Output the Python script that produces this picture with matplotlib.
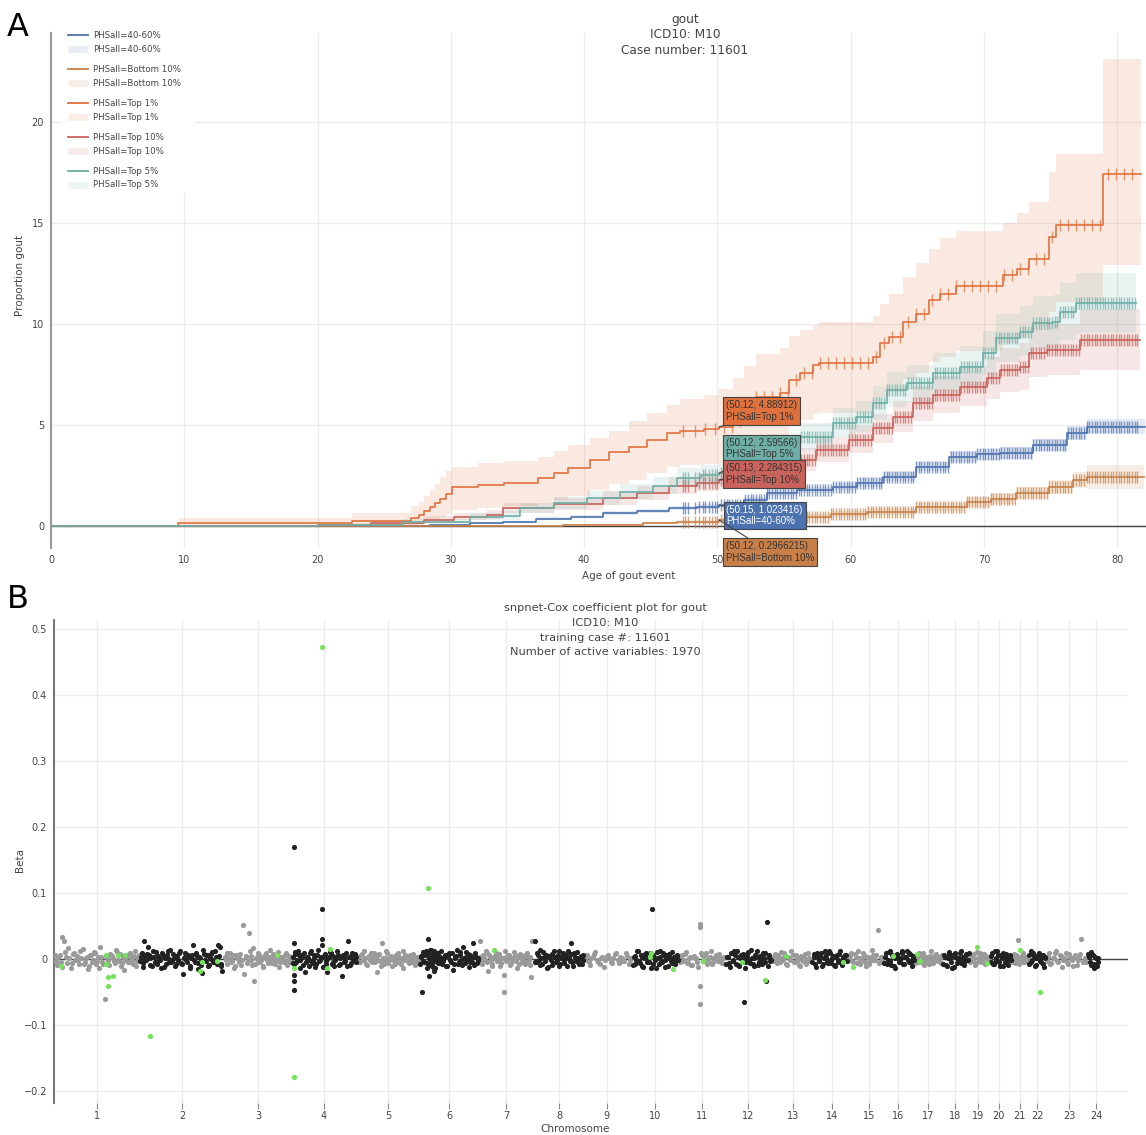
import numpy as np
import matplotlib
matplotlib.use("Agg")
import matplotlib.pyplot as plt
from matplotlib.lines import Line2D
from matplotlib.patches import Rectangle

plt.rcParams['font.family'] = ['DejaVu Sans']

# ---------------- panel A data (cumulative incidence, %) ----------------
groups = ["PHSall=40-60%", "PHSall=Bottom 10%", "PHSall=Top 1%", "PHSall=Top 10%", "PHSall=Top 5%"]
colors = ["#4C72B0", "#C98048", "#E0703C", "#C8625A", "#6DAFA6"]

mid_age = [0, 25, 28.4, 31.4, 33.9, 36.4, 39.0, 41.4, 44.0, 46.4, 48.5, 50.15, 52.0, 53.7, 56.0,
           58.7, 60.5, 62.4, 64.9, 67.4, 69.5, 71.2, 73.7, 76.2, 77.7, 82.1]
mid_val = [0, 0.02, 0.05, 0.15, 0.21, 0.35, 0.46, 0.64, 0.76, 0.9, 0.96, 1.02, 1.3, 1.62, 1.78,
           1.95, 2.15, 2.44, 2.94, 3.43, 3.55, 3.6, 4.01, 4.59, 4.92, 4.92]
mid_lo = [0, 0, 0.02, 0.1, 0.15, 0.28, 0.38, 0.55, 0.66, 0.8, 0.85, 0.9, 1.16, 1.46, 1.61,
          1.77, 1.95, 2.22, 2.7, 3.17, 3.27, 3.31, 3.7, 4.24, 4.55, 4.55]
mid_hi = [0, 0.04, 0.08, 0.2, 0.27, 0.42, 0.54, 0.73, 0.86, 1.0, 1.07, 1.14, 1.44, 1.78, 1.95,
          2.13, 2.35, 2.66, 3.18, 3.69, 3.83, 3.89, 4.32, 4.94, 5.29, 5.29]

bot_age = [0, 35, 38.4, 44.4, 47.0, 50.12, 53.0, 56.2, 58.5, 61.2, 64.9, 68.7, 70.5, 72.4, 74.9, 76.7, 77.7, 82.0]
bot_val = [0, 0.01, 0.05, 0.15, 0.2, 0.3, 0.38, 0.46, 0.58, 0.71, 0.96, 1.2, 1.35, 1.62, 1.95, 2.28, 2.44, 2.44]
bot_lo = [0, 0, 0.01, 0.08, 0.12, 0.2, 0.27, 0.33, 0.43, 0.55, 0.76, 0.96, 1.08, 1.32, 1.6, 1.88, 1.85, 1.85]
bot_hi = [0, 0.03, 0.09, 0.22, 0.28, 0.4, 0.49, 0.59, 0.73, 0.88, 1.16, 1.44, 1.62, 1.93, 2.3, 2.68, 3.0, 3.0]

t1_age = [0, 9.5, 22.6, 27.0, 27.6, 28.0, 28.4, 28.8, 29.2, 29.6, 30.05, 32.0, 34.0, 36.5, 37.7, 38.8,
          40.4, 41.9, 43.4, 44.7, 46.2, 47.2, 49.0, 50.12, 51.2, 52.0, 52.9, 54.7, 55.4, 56.2, 57.2,
          57.6, 61.7, 62.2, 62.9, 63.9, 64.9, 65.9, 66.7, 67.9, 71.4, 72.5, 73.4, 74.9, 75.4, 78.9, 81.8]
t1_val = [0, 0.15, 0.25, 0.4, 0.55, 0.75, 0.95, 1.15, 1.35, 1.6, 1.92, 2.03, 2.12, 2.36, 2.62, 2.87,
          3.27, 3.68, 3.93, 4.26, 4.6, 4.72, 4.8, 4.89, 5.2, 5.9, 6.4, 6.58, 7.23, 7.57, 7.97,
          8.05, 8.38, 9.05, 9.37, 10.1, 10.5, 11.2, 11.5, 11.9, 12.4, 12.7, 13.2, 14.3, 14.9, 17.4, 17.4]
t1_lo = [0, 0, 0, 0.05, 0.1, 0.15, 0.25, 0.35, 0.45, 0.6, 0.8, 0.9, 1.0, 1.15, 1.3, 1.5,
         1.8, 2.1, 2.3, 2.6, 2.9, 3.0, 3.05, 3.1, 3.35, 3.9, 4.3, 4.45, 4.95, 5.25, 5.55,
         5.6, 5.85, 6.4, 6.65, 7.25, 7.55, 8.1, 8.35, 8.65, 9.05, 9.3, 9.7, 10.6, 11.1, 12.9, 12.9]
t1_hi = [0, 0.4, 0.66, 1.0, 1.2, 1.5, 1.8, 2.1, 2.4, 2.7, 2.9, 3.1, 3.2, 3.43, 3.7, 4.0,
         4.34, 4.7, 5.2, 5.6, 6.0, 6.3, 6.5, 6.8, 7.3, 7.9, 8.5, 8.8, 9.4, 9.7, 9.95,
         10.1, 10.4, 11.0, 11.5, 12.3, 13.0, 13.7, 14.25, 14.6, 15.0, 15.5, 16.05, 17.5, 18.4, 23.1, 23.1]

t10_age = [0, 20, 24, 28, 30.2, 32.7, 33.9, 37.7, 41.4, 44.0, 46.4, 48.5, 50.13, 52.4, 54.9, 57.4,
           59.9, 61.7, 63.2, 64.7, 66.2, 68.2, 70.2, 71.2, 72.7, 73.4, 74.7, 77.2, 81.7]
t10_val = [0, 0.05, 0.15, 0.3, 0.46, 0.55, 0.88, 1.09, 1.38, 1.63, 2.0, 2.15, 2.28, 2.77, 3.27, 3.76,
           4.26, 4.83, 5.41, 6.07, 6.49, 6.9, 7.31, 7.72, 7.89, 8.55, 8.71, 9.21, 9.21]
t10_lo = [0, 0, 0.05, 0.15, 0.28, 0.35, 0.62, 0.8, 1.05, 1.27, 1.6, 1.72, 1.84, 2.27, 2.72, 3.15,
          3.6, 4.12, 4.64, 5.22, 5.58, 5.93, 6.28, 6.62, 6.75, 7.35, 7.45, 7.72, 7.72]
t10_hi = [0, 0.12, 0.27, 0.48, 0.66, 0.78, 1.15, 1.4, 1.72, 2.0, 2.42, 2.6, 2.74, 3.28, 3.84, 4.38,
          4.93, 5.55, 6.2, 6.93, 7.42, 7.88, 8.35, 8.83, 9.05, 9.77, 9.99, 10.72, 10.72]

t5_age = [0, 20, 26.4, 31.4, 33.9, 35.2, 37.7, 40.2, 42.7, 45.2, 47.0, 48.8, 50.12, 51.7, 53.7, 56.2,
          58.7, 60.4, 61.7, 62.7, 64.2, 66.2, 68.2, 69.9, 70.9, 72.7, 73.7, 75.2, 75.7, 76.9, 81.4]
t5_val = [0, 0.05, 0.2, 0.46, 0.5, 0.88, 1.13, 1.38, 1.7, 1.98, 2.37, 2.5, 2.6, 3.27, 3.93, 4.42,
          5.1, 5.41, 6.08, 6.73, 7.06, 7.56, 7.89, 8.55, 9.29, 9.62, 10.04, 10.1, 10.6, 11.02, 11.02]
t5_lo = [0, 0, 0.08, 0.28, 0.31, 0.62, 0.84, 1.05, 1.33, 1.58, 1.92, 2.02, 2.1, 2.72, 3.32, 3.76,
         4.38, 4.65, 5.27, 5.87, 6.16, 6.6, 6.88, 7.47, 8.13, 8.41, 8.75, 8.8, 9.2, 9.55, 9.55]
t5_hi = [0, 0.13, 0.35, 0.66, 0.72, 1.15, 1.45, 1.74, 2.1, 2.41, 2.85, 3.0, 3.12, 3.85, 4.57, 5.11,
         5.85, 6.2, 6.92, 7.62, 7.99, 8.55, 8.93, 9.67, 10.49, 10.87, 11.36, 11.43, 12.03, 12.52, 12.52]

# censoring ticks
censor_ages = [47.4, 47.6, 47.8, 48.3, 48.6, 48.9, 49.1, 49.4, 49.6, 49.8, 50.0, 50.3, 50.5, 50.7,
               50.9, 51.1, 51.3, 51.5, 51.7, 51.9, 52.1, 52.3, 52.5, 52.7, 52.9, 53.1, 53.3, 53.5,
               53.7, 53.9, 54.1, 54.3, 54.5, 54.7, 54.9, 55.1, 55.3, 55.5, 55.7, 55.9, 56.1, 56.3,
               56.5, 56.7, 56.9, 57.1, 57.3, 57.5, 57.7, 57.9, 58.1, 58.3, 58.5, 58.7, 58.9, 59.1,
               59.3, 59.5, 59.7, 59.9, 60.1, 60.3, 60.5, 60.7, 60.9, 61.1, 61.3, 61.5, 61.7, 61.9,
               62.1, 62.3, 62.5, 62.7, 62.9, 63.1, 63.3, 63.5, 63.7, 63.9, 64.1, 64.3, 64.5, 64.7,
               64.9, 65.1, 65.3, 65.5, 65.7, 65.9, 66.1, 66.3, 66.5, 66.7, 66.9, 67.1, 67.3, 67.5,
               67.7, 67.9, 68.1, 68.3, 68.5, 68.7, 68.9, 69.1, 69.3, 69.5, 69.7, 69.9, 70.1, 70.3,
               70.5, 70.7, 70.9, 71.1, 71.3, 71.5, 71.7, 71.9, 72.1, 72.3, 72.5, 72.7, 72.9, 73.1,
               73.3, 73.5, 73.7, 73.9, 74.1, 74.3, 74.5, 74.7, 74.9, 75.1, 75.3, 75.5, 75.7, 75.9,
               76.1, 76.3, 76.5, 76.7, 76.9, 77.1, 77.3, 77.5, 77.7, 77.9, 78.1, 78.3, 78.5, 78.7,
               78.9, 79.1, 79.3, 79.5, 79.7, 79.9, 80.1, 80.3, 80.5, 80.7, 80.9, 81.1, 81.3, 81.5]

# hover-label annotations at age ~50
ann_x = [50.12, 50.12, 50.13, 50.15, 50.12]
ann_y = [4.88912, 2.59566, 2.284315, 1.023416, 0.2966215]
ann_group = ["PHSall=Top 1%", "PHSall=Top 5%", "PHSall=Top 10%", "PHSall=40-60%", "PHSall=Bottom 10%"]

# ---------------- panel B data (cumulative position in Mb, beta x 1000) ----------------
chrom_ticks = [124.8, 371.6, 592, 784, 970, 1147, 1312, 1466, 1605, 1745, 1881, 2015, 2145, 2259,
               2366, 2450, 2537, 2616, 2682, 2743, 2804, 2854, 2947, 3025]
chrom_labels = [str(i) for i in range(1, 25)]

# odd chromosomes (grey)
gray_x = [3, 8, 13, 19, 24, 28, 33, 38, 44, 49, 55, 61, 66, 72, 78, 83, 89, 95, 101, 107, 113, 119,
          125, 131, 137, 143, 147, 152, 158, 164, 170, 176, 182, 188, 194, 200, 206, 212, 218, 224,
          230, 236, 242, 247,
          6, 16, 22, 36, 41, 52, 58, 69, 75, 86, 92, 98, 104, 110, 116, 122, 128, 134, 140, 155,
          161, 167, 173, 179, 185, 191, 197, 203, 209, 215, 221, 227, 233, 239, 245,
          496, 501, 506, 511, 516, 521, 526, 531, 536, 541, 546, 549, 552, 556, 561, 566, 571, 576,
          578, 581, 586, 591, 596, 601, 606, 611, 616, 621, 626, 631, 636, 641, 646, 651, 656, 661,
          666, 671, 676, 681, 686,
          498, 503, 513, 518, 523, 528, 538, 543, 558, 563, 568, 573, 583, 588, 593, 598, 603, 608,
          613, 618, 623, 628, 633, 638, 643, 648, 653, 658, 663, 668, 673, 678, 683, 688,
          884, 889, 894, 899, 904, 909, 914, 919, 924, 929, 934, 939, 942, 947, 952, 957, 962, 967,
          972, 977, 982, 987, 992, 997, 1002, 1007, 1012, 1017, 1022, 1027, 1032, 1037, 1042, 1047,
          1052, 1057,
          886, 891, 896, 901, 906, 911, 916, 921, 926, 931, 936, 944, 949, 954, 959, 964, 969, 974,
          979, 984, 989, 994, 999, 1004, 1009, 1014, 1019, 1024, 1029, 1034, 1039, 1044, 1049, 1054, 1059,
          1236, 1241, 1246, 1251, 1256, 1261, 1266, 1271, 1276, 1281, 1286, 1291, 1296, 1301, 1305,
          1306, 1311, 1316, 1321, 1326, 1331, 1336, 1341, 1346, 1351, 1356, 1361, 1366, 1371, 1376,
          1381, 1385, 1388,
          1238, 1243, 1248, 1253, 1258, 1263, 1268, 1273, 1278, 1283, 1288, 1293, 1298, 1303, 1308,
          1313, 1318, 1323, 1328, 1333, 1338, 1343, 1348, 1353, 1358, 1363, 1368, 1373, 1378, 1383,
          1545, 1552, 1560, 1568, 1576, 1584, 1592, 1600, 1608, 1616, 1624, 1632, 1640, 1648, 1656,
          1664, 1672,
          1541, 1548, 1556, 1564, 1572, 1580, 1588, 1596, 1604, 1612, 1620, 1628, 1636, 1644, 1652,
          1660, 1668, 1676,
          1820, 1826, 1832, 1838, 1844, 1850, 1856, 1862, 1868, 1875, 1875, 1875, 1875, 1880, 1886,
          1892, 1898, 1904, 1910, 1916, 1922, 1928, 1934, 1940, 1946,
          1818, 1823, 1829, 1835, 1841, 1847, 1853, 1859, 1865, 1871, 1878, 1883, 1889, 1895, 1901,
          1907, 1913, 1919, 1925, 1931, 1937, 1943, 1948,
          2090, 2096, 2102, 2108, 2114, 2120, 2126, 2132, 2138, 2144, 2150, 2156, 2162, 2168, 2174,
          2180, 2186, 2192,
          2087, 2093, 2099, 2105, 2111, 2117, 2123, 2129, 2135, 2141, 2147, 2153, 2159, 2165, 2171,
          2177, 2183, 2189, 2195,
          2312, 2318, 2324, 2330, 2336, 2342, 2348, 2354, 2360, 2366, 2372, 2378, 2384, 2392, 2398, 2404,
          2309, 2315, 2321, 2327, 2333, 2339, 2345, 2351, 2357, 2363, 2369, 2375, 2381, 2387, 2395,
          2401, 2407,
          2504, 2509, 2514, 2519, 2524, 2529, 2534, 2539, 2544, 2549, 2554, 2559, 2564, 2569, 2575,
          2501, 2506, 2511, 2516, 2521, 2526, 2531, 2536, 2541, 2546, 2551, 2556, 2561, 2566, 2571, 2577,
          2662, 2667, 2672, 2677, 2682, 2687, 2692, 2697, 2702, 2707, 2712,
          2660, 2664, 2669, 2674, 2679, 2684, 2689, 2694, 2699, 2704, 2709, 2714,
          2784, 2789, 2794, 2799, 2804, 2809, 2814, 2819, 2824,
          2782, 2787, 2792, 2797, 2802, 2807, 2812, 2817, 2822, 2826,
          2885, 2892, 2899, 2906, 2913, 2920, 2927, 2934, 2941, 2948, 2955, 2962, 2969, 2976, 2983,
          2990, 2997,
          2882, 2888, 2895, 2902, 2909, 2916, 2923, 2930, 2937, 2944, 2951, 2958, 2965, 2972, 2979,
          2986, 2993]
gray_b = [6, -9, 3, -4, 34, 28, 11, -6, 2, -13, 8, -2, 5, -7, 1, 15, -5, 4, -11, 7, -1, 9,
          -3, -14, 3, -8, -61, 5, -2, 8, 1, -6, 11, -3, -10, 4, -1, 7, -5, 2,
          -8, 12, -3, 6,
          -3, 7, -12, 4, 17, -6, 9, -2, 13, -8, 2, -15, 6, -4, 11, -7, 3, 18, -5, 2,
          -9, 5, -3, 14, -1, 8, -6, -17, 3, -4, 9, -2, 5, -10, 1,
          4, -7, 2, 9, -3, 6, -11, 1, -5, 8, -2, 52, -22, 3, -6, 39, 5, -9,
          17, -33, 2, -4, 7, -1, -12, 4, 9, -6, 1, -3, 8, -8, 2, 11, -5, 3,
          -2, 6, -9, 1, -4,
          -2, 10, -5, 3, -14, 7, 2, -9, 5, -3, 12, -1, -7, 4, 9, -4, 1, -11,
          6, -2, 3, 14, -6, 2, -3, 7, -12, 4, 1, -5, 9, -2, 5, -1,
          3, -5, 8, -2, 1, -9, 5, 2, -4, 10, -1, -19, 6, -3, 24, -7, 2, 9,
          -2, 4, -11, 1, 7, -5, 3, -8, 12, -1, 5, -3, -6, 2, 8, -4,
          1, -2,
          -4, 6, -1, 12, -7, 3, -2, 9, 1, -5, 4, 8, -10, 2, -3, 13, -6, 1,
          5, -2, -8, 3, 10, -4, 1, -13, 6, 2, -1, 7, -5, 3, -9, 4, 1,
          28, -4, 6, -2, 9, -18, 3, -7, 1, 5, -3, 8, -10, 2, -24,
          -50, 4, -1, 7, -6, 2, 11, -3, 5, -8, 1, -2, 6, -4, 3,
          -9, -27, 28,
          3, -8, 1, 12, -4, 6, -1, -11, 4, 9, -2, 5, -6, 1, 13,
          -3, 7, -9, 2, -1, 6, -14, 3, 8, -4, 1, -7, 10, -2, 4,
          3, -5, 1, 8, -2, -8, 4, -1, 6, -4, 2, 9, -6, 1, -3,
          5, -2,
          -2, 6, -9, 3, 11, -4, 1, -12, 5, 2, -6, 8, -1, 4, -3,
          10, -7, 2,
          5, -3, 8, -6, 2, -9, 4, 1, -4, 53, 48, -68, -40, 7, -2,
          10, -5, 3, -8, 1, 6, -3, 2, -6, 4,
          -4, 7, -1, 11, -6, 3, -9, 5, 2, -12, 9, -3, 6, -7, 1,
          12, -5, 3, -1, 8, -4, 2, -8,
          4, -2, 7, -5, 1, 9, -7, 3, -1, 6, -4, 2, -9, 5, -3,
          8, -2, 1,
          -3, 8, -6, 2, 11, -2, 5, -9, 1, 13, -4, 7, -1, -11, 4,
          2, -7, 9, -3,
          5, -3, 8, -6, 2, -1, 10, -4, 3, -8, 1, 6, -2, 44, -5, 2,
          -2, 9, -5, 3, 12, -7, 1, 6, -10, 4, -3, 14, -1, 7, -6,
          3, -4,
          3, -5, 7, -2, 9, -4, 1, -8, 5, 2, -3, 6, -1, 4, -6,
          -6, 2, 10, -4, 5, -9, 3, 1, -2, 12, -6, 4, 8, -3, 2, 6,
          4, -3, 8, -6, 2, 10, -4, 1, -7, 5, -2,
          -5, 7, 2, -9, 11, -3, 5, -1, 8, -6, 3, 1,
          3, -6, 7, 29, -2, 5, -4, 1, -3,
          -4, 8, -2, 5, -8, 2, 10, -5, 4, -1,
          4, -7, 2, 9, -3, 6, -12, 1, -5, 8, -2, 3, -9, 5, 30,
          -1, -4,
          -3, 9, -6, 2, 12, -4, 5, -1, 10, -7, 3, -11, 6, -2, 8,
          -5, 2]

# even chromosomes (black)
black_x = [252, 257, 261, 265, 270, 273, 278, 283, 288, 293, 298, 303, 308, 313, 318, 323, 328, 333,
           338, 343, 348, 353, 358, 363, 368, 374, 379, 384, 389, 394, 399, 404, 409, 414, 419, 424,
           430, 435, 440, 445, 450, 455, 460, 465, 470, 476, 482, 486, 489,
           250, 255, 259, 263, 268, 275, 280, 285, 290, 295, 300, 305, 310, 315, 320, 325, 330, 335,
           340, 345, 350, 355, 360, 366, 371, 376, 381, 386, 391, 396, 401, 407, 412, 417, 422, 427,
           432, 437, 442, 447, 452, 457, 462, 467, 473, 479, 484,
           693, 697, 698, 698, 698, 698, 698, 700, 703, 708, 713, 718, 723, 729, 734, 739, 744,
           749, 754, 759, 764, 769, 774, 778, 779, 779, 784, 789, 794, 799, 804, 809, 814, 819, 824,
           829, 836, 841, 846, 853, 858, 863, 868, 873, 878,
           695, 701, 705, 710, 715, 720, 726, 731, 736, 741, 746, 751, 756, 761, 766, 771, 776, 781,
           786, 791, 796, 801, 806, 811, 816, 821, 826, 831, 838, 843, 848, 851, 856, 861, 866, 871, 876,
           1065, 1068, 1072, 1076, 1080, 1084, 1087, 1088, 1090, 1092, 1095, 1098, 1101, 1103, 1106,
           1110, 1114, 1118, 1122, 1127, 1132, 1137, 1142, 1147, 1152, 1158, 1163, 1168, 1173, 1178,
           1183, 1187, 1192, 1197, 1202, 1207, 1211, 1215, 1220, 1225, 1230,
           1063, 1066, 1070, 1074, 1078, 1082, 1085, 1089, 1091, 1093, 1094, 1096, 1097, 1099, 1100,
           1102, 1104, 1105, 1108, 1112, 1116, 1120, 1124, 1129, 1134, 1139, 1144, 1149, 1155, 1160,
           1165, 1170, 1175, 1180, 1185, 1190, 1195, 1200, 1205, 1209, 1213, 1218, 1223, 1228, 1232,
           1395, 1400, 1405, 1410, 1415, 1420, 1425, 1430, 1435, 1440, 1445, 1450, 1455, 1460, 1465,
           1470, 1475, 1480, 1485, 1490, 1495, 1500, 1505, 1510, 1515, 1520, 1525, 1530, 1535,
           1397, 1402, 1407, 1412, 1417, 1422, 1427, 1432, 1437, 1442, 1447, 1452, 1457, 1462, 1467,
           1472, 1477, 1482, 1487, 1492, 1497, 1502, 1507, 1512, 1517, 1522, 1527, 1532, 1537,
           1683, 1688, 1693, 1698, 1703, 1708, 1713, 1718, 1723, 1728, 1733, 1736, 1740, 1745, 1750,
           1755, 1760, 1765, 1770, 1775, 1780, 1785, 1790, 1795, 1800, 1805, 1810,
           1681, 1686, 1691, 1696, 1701, 1706, 1711, 1716, 1721, 1726, 1731, 1738, 1743, 1748, 1753,
           1758, 1763, 1768, 1773, 1778, 1783, 1788, 1793, 1798, 1803, 1808, 1813,
           1955, 1960, 1965, 1970, 1975, 1980, 1985, 1990, 1995, 2000, 2003, 2008, 2013, 2018, 2023,
           2028, 2033, 2038, 2043, 2048, 2053, 2058, 2063, 2067, 2070, 2075, 2080,
           1952, 1957, 1962, 1967, 1972, 1977, 1982, 1987, 1992, 1997, 2001, 2006, 2011, 2016, 2021,
           2026, 2031, 2036, 2041, 2046, 2051, 2056, 2061, 2065, 2072, 2077, 2082,
           2205, 2210, 2215, 2220, 2225, 2230, 2235, 2240, 2245, 2250, 2255, 2260, 2265, 2270, 2275,
           2280, 2285, 2290, 2295, 2300,
           2202, 2207, 2212, 2217, 2222, 2227, 2232, 2237, 2242, 2247, 2252, 2257, 2262, 2267, 2272,
           2277, 2282, 2287, 2292, 2297, 2302,
           2413, 2418, 2423, 2428, 2433, 2438, 2443, 2448, 2453, 2458, 2463, 2468, 2473, 2478, 2483,
           2488, 2493, 2497,
           2411, 2416, 2421, 2426, 2431, 2436, 2441, 2446, 2451, 2456, 2461, 2466, 2471, 2476, 2481,
           2486, 2491, 2495,
           2584, 2589, 2594, 2599, 2604, 2609, 2614, 2619, 2624, 2629, 2634, 2639, 2644, 2649, 2654,
           2582, 2587, 2592, 2597, 2602, 2607, 2612, 2617, 2622, 2627, 2632, 2637, 2642, 2647, 2652, 2656,
           2721, 2726, 2731, 2736, 2741, 2746, 2751, 2756, 2761, 2766, 2771, 2776,
           2719, 2724, 2729, 2734, 2739, 2744, 2749, 2754, 2759, 2764, 2769, 2774, 2778,
           2832, 2837, 2842, 2847, 2852, 2857, 2862, 2867, 2872, 2876,
           2830, 2835, 2840, 2845, 2850, 2855, 2860, 2865, 2870, 2874, 2878,
           3005, 3010, 3015, 3020, 3025, 3030,
           3003, 3008, 3012, 3018, 3022, 3028, 3032]
black_b = [4, -6, 27, -2, 8, 19, -9, 3, 12, -4, -7, 5, -1, 9, -12, 2, 6, -5,
           14, -3, 1, -8, 4, 10, -6, -22, 3, -2, 7, -10, 1, 22, -4, 5, -15, 2,
           -21, 8, -3, 6, -9, 0, 11, -5, 3, 22, 19, -7, -18,
           -3, 9, -12, 5, -1, 7, 2, -10, 4, 11, -5, 1, -14, 6, 3, -8, 12, 0,
           -4, 8, -11, 5, -2, 13, -7, 2, 9, -5, 4, -13, 7, -1, 10, -6, 3, -9,
           14, -2, 6, -11, 2, 8, -4, 12, -7, 5, -10,
           3, -8, 170, -47, -33, -24, 25, 8, -5, 12, -2, 6, -9, -19, 4, -1, 10,
           -6, 2, -12, 7, -3, 1, 76, 30, 22, 5, -8, -20, 3, 9, -4, -11, 2, 6,
           -7, -25, 4, -3, 28, -9, 5, -2, 8, -5,
           -6, 11, -2, 7, -13, 3, 9, -5, 1, -10, 12, -3, 6, -8, 14, -1, 4, -12,
           8, -3, 2, 11, -7, 5, -2, 13, -9, 1, 6, -4, 10, -11, 3, -6, 9, -1, 4,
           5, -50, -3, 8, 12, -6, 30, 2, -26, -9, 14, 4, -12, -18, 7,
           -2, 10, -5, 3, -8, 1, 6, -11, 9, -4, -16, 2, 5, -7, 11,
           -2, 18, -6, 3, 8, -4, 1, 25, -9, 4, -2,
           -8, 3, 11, -4, 6, -13, 9, 1, -7, 14, -2, 5, -10, 8, -5,
           12, -1, -14, 4, 9, -6, 2, 13, -3, 7, -11, 5, -1, 10, -7,
           3, 14, -4, 6, -9, 2, 11, -2, -12, 7, -5, 3, 9, -6, 1,
           28, -4, 6, -9, 2, 11, -3, 5, -12, 1, 8, -6, 3, -2, 13,
           -8, 4, -1, 7, -10, 2, 24, -5, 9, -3, 1, -7, 5, -2,
           -5, 9, -1, 14, -8, 3, 7, -13, 5, -2, -9, 12, -4, 6, -11,
           2, 10, -6, 1, 13, -3, 8, -10, 4, 11, -5, 2, -8, 6,
           4, -7, 12, -3, 6, -10, 2, 9, -5, 1, -14, 76, 7, -2, 11,
           -8, 3, -4, 6, -12, 2, 8, -3, -6, 4, -1, 5,
           -9, 5, -2, 13, -6, 3, -12, 8, 1, -4, 10, -7, 4, -13, 2,
           12, -5, 9, -1, 6, -10, 3, 11, -3, -8, 7, -2,
           3, -6, 9, -2, 12, -8, 4, -11, 6, 1, -65, -4, 8, -3, 14,
           -7, 2, 5, -9, 3, -1, 10, -5, -33, 56, 4, -3,
           -7, 4, -12, 10, -3, 6, 13, -9, 2, -5, 8, -14, 3, 11, -6,
           1, -10, 7, 12, -4, 5, -8, 2, 9, -11, 6, -1,
           3, -7, 9, -2, 5, -11, 2, 7, -4, 12, -6, 1, -9, 4, -2,
           8, -5, 3, -1, 6,
           -5, 8, -12, 4, -3, 10, -8, 13, 1, -6, 9, -2, 5, -11, 7,
           -4, 12, -9, 2, 6, -3,
           4, -8, 11, -3, 6, -10, 2, 8, -5, 1, 13, -7, 3, -2, 9,
           -4, 5, -1,
           -6, 9, -2, 12, -9, 4, -13, 6, 1, -4, 10, -7, 3, 13, -5,
           8, -10, 2,
           6, -9, 2, 11, -4, 7, -12, 3, -1, 9, -6, 4, -3, 8, -2,
           -7, 4, -10, 8, 1, -13, 5, 10, -6, 2, 12, -4, -9, 6, -1, 9,
           5, -8, 12, -3, 7, -10, 2, 9, -5, 3, -1, 6,
           -4, 10, -7, 2, 13, -5, 6, -11, 3, 8, -9, 4, -2,
           6, -4, 9, -11, 2, 7, -3, 4, -8, 1,
           -7, 12, -2, 5, -9, 3, 10, -5, 6, -12, 3,
           3, -9, 6, -14, 2, -5,
           8, -4, 11, -7, 4, -11, 1]

# highlighted variants (green)
green_x = [19, 151, 152, 156, 156, 170, 186, 206, 279, 424, 430, 473, 647, 698, 698, 778, 792, 800,
           1087, 1277, 1730, 1733, 1797, 1884, 1997, 2064, 2125, 2290, 2320, 2436, 2505, 2514,
           2680, 2708, 2804, 2862]
green_b = [-10, 7, -8, -40, -27, -26, 7, 6, -116, -18, -4, -3, 7, -178, -14, 473, -14, 15,
           108, 14, 3, 10, -15, -3, -5, -32, 5, -5, -12, 5, 8, -3,
           18, -6, 14, -50]

# ---------------- figure ----------------
W, H = 1146, 1135
fig = plt.figure(figsize=(W / 100, H / 100), dpi=100)


def fx(px):
    return px / W


def fy(py):
    return 1 - py / H


txt = "#444444"
grid_c = "#ececec"

# ---- panel A ----
ax1 = fig.add_axes([fx(51), fy(548), fx(1146) - fx(51), fy(33) - fy(548)])
ax1.set_xlim(0, 82.15)
ax1.set_ylim(-1.09, 24.4)
ax1.set_xticks(range(0, 90, 10))
ax1.set_yticks([0, 5, 10, 15, 20])
ax1.grid(True, color=grid_c, lw=1)
ax1.set_axisbelow(True)
for s in ["top", "right", "bottom"]:
    ax1.spines[s].set_visible(False)
ax1.spines["left"].set_color("#999999")
ax1.spines["left"].set_linewidth(1.5)
ax1.axhline(0, color=txt, lw=1, zorder=1)
ax1.tick_params(length=0, labelsize=7, labelcolor=txt, pad=5)

series = [(mid_age, mid_val, mid_lo, mid_hi), (bot_age, bot_val, bot_lo, bot_hi),
          (t1_age, t1_val, t1_lo, t1_hi), (t10_age, t10_val, t10_lo, t10_hi),
          (t5_age, t5_val, t5_lo, t5_hi)]

for (a, v, lo, hi), c in zip(series, colors):
    ax1.fill_between(a, lo, hi, step="post", color=c, alpha=0.15, lw=0, zorder=2)

for k, ((a, v, lo, hi), c) in enumerate(zip(series, colors)):
    ax1.step(a, v, where="post", color=c, lw=1.2, zorder=3)
    ca = np.array(censor_ages)
    if groups[k] == "PHSall=Top 1%":
        ca = ca[::3]
    ca = ca[ca <= a[-1]]
    idx = np.searchsorted(a, ca, side="right") - 1
    cv = np.array(v)[idx]
    ax1.plot(ca, cv, ls="none", marker="|", ms=9, mew=1.0, color=c, alpha=0.7, zorder=4)

# hover labels
box_dy = [16, 25, 6, -10, -32]
for x, y, g, dy in zip(ann_x, ann_y, ann_group, box_dy):
    c = colors[groups.index(g)]
    tc = "white" if g == "PHSall=40-60%" else "#333333"
    ax1.annotate(f"({x}, {y})\n{g}", xy=(x, y), xytext=(7, dy), textcoords="offset pixels",
                 ha="left", va="center", fontsize=7, color=tc, zorder=10,
                 family=["Liberation Sans", "DejaVu Sans"],
                 bbox=dict(boxstyle="square,pad=0.3", fc=c, ec=txt, lw=0.8),
                 arrowprops=dict(arrowstyle="-", color=txt, lw=0.8, shrinkA=0, shrinkB=0))

# legend (drawn by hand to keep the grouped spacing)
fig.add_artist(Rectangle((fx(62), fy(193)), fx(195) - fx(62), fy(28) - fy(193),
                         transform=fig.transFigure, fc="white", ec="none", zorder=1))
leg_rows = [35, 49, 69, 83, 103, 117, 137, 151, 171, 185]
for i, g in enumerate(groups):
    for j in range(2):
        yy = fy(leg_rows[2 * i + j])
        if j == 0:
            ln = Line2D([fx(68), fx(88)], [yy, yy], color=colors[i], lw=1.3, transform=fig.transFigure)
        else:
            ln = Line2D([fx(68), fx(88)], [yy, yy], color=colors[i], lw=5, alpha=0.12,
                        transform=fig.transFigure, solid_capstyle="butt")
        ln.set_zorder(2)
        fig.add_artist(ln)
        fig.text(fx(93), yy, g, fontsize=6.2, color=txt, va="center", ha="left", zorder=3)

for py, s in zip([19, 34, 50], ["gout", "ICD10: M10", "Case number: 11601"]):
    fig.text(fx(685), fy(py), s, fontsize=8.7, color=txt, ha="center", va="center")
fig.text(fx(20), fy(275), "Proportion gout", rotation=90, fontsize=7.5, color=txt, ha="center", va="center")
fig.text(fx(629), fy(576), "Age of gout event", fontsize=7.5, color=txt, ha="center", va="center")

# ---- panel B ----
ax2 = fig.add_axes([fx(54), fy(1103), fx(1128) - fx(54), fy(620) - fy(1103)])
ax2.set_xlim(0, 3118)
ax2.set_ylim(-0.218, 0.514)
ax2.set_xticks(chrom_ticks)
ax2.set_xticklabels(chrom_labels)
ax2.set_yticks([-0.2, -0.1, 0, 0.1, 0.2, 0.3, 0.4, 0.5])
ax2.set_yticklabels(["\u22120.2", "\u22120.1", "0", "0.1", "0.2", "0.3", "0.4", "0.5"])
ax2.grid(True, color=grid_c, lw=1)
ax2.set_axisbelow(True)
for s in ["top", "right", "bottom"]:
    ax2.spines[s].set_visible(False)
ax2.spines["left"].set_color("#777777")
ax2.spines["left"].set_linewidth(1.5)
ax2.axhline(0, color=txt, lw=1, zorder=1)
ax2.tick_params(axis="y", length=0, labelsize=7, labelcolor=txt, pad=5)
ax2.tick_params(axis="x", length=4, width=0.8, color="#888888", labelsize=7, labelcolor=txt, pad=2)

ax2.scatter(gray_x, np.array(gray_b) / 1000, s=14, color="#9a9a9a", lw=0, zorder=3)
ax2.scatter(black_x, np.array(black_b) / 1000, s=14, color="#222222", lw=0, zorder=4)
ax2.scatter(green_x, np.array(green_b) / 1000, s=14, color="#74e35a", lw=0, zorder=5)

for py, s in zip([608, 623, 638, 652], ["snpnet-Cox coefficient plot for gout", "ICD10: M10",
                                        "training case #: 11601", "Number of active variables: 1970"]):
    fig.text(fx(605), fy(py), s, fontsize=8.2, color=txt, ha="center", va="center")
fig.text(fx(20), fy(860), "Beta", rotation=90, fontsize=7.5, color=txt, ha="center", va="center")
fig.text(fx(575), fy(1129), "Chromosome", fontsize=7.5, color=txt, ha="center", va="center")

fig.text(fx(18), fy(27), "A", fontsize=23, color="black", ha="center", va="center")
fig.text(fx(18), fy(600), "B", fontsize=23, color="black", ha="center", va="center")

fig.savefig("out.png", dpi=100)
